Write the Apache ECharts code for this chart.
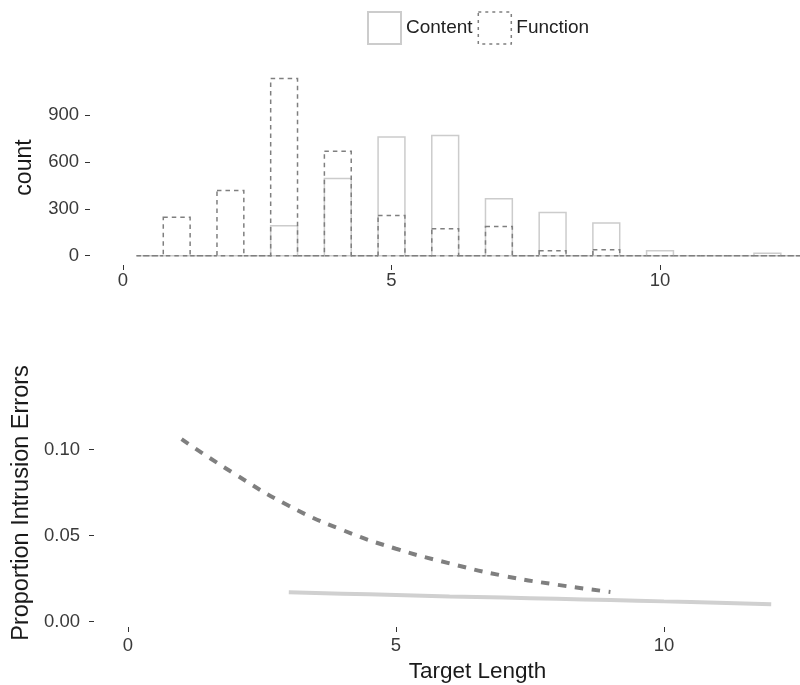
<!DOCTYPE html>
<html>
<head>
<meta charset="utf-8">
<script src="https://cdn.jsdelivr.net/npm/echarts@6/dist/echarts.min.js"></script>
<style>html,body{margin:0;padding:0;background:#fff;}#chart{width:800px;height:685px;}</style>
</head>
<body>
<div id="chart"></div>
<script>
// ---- data ----
const seriesNames = ['Content', 'Function'];
const lengths = [1, 2, 3, 4, 5, 6, 7, 8, 9, 10, 11, 12];
const contentCounts = [0, 0, 192, 494, 761, 770, 364, 276, 210, 32, 0, 15];
const functionCounts = [246, 417, 1135, 669, 257, 173, 186, 32, 37, 0, 0, 0];
const contentLengths = [3, 4, 5, 6, 7, 8, 9, 10, 11, 12];
const contentProp = [0.0170, 0.0162, 0.0154, 0.0146, 0.0139, 0.0132, 0.0125, 0.0117, 0.0109, 0.0101];
const functionLengths = [1, 2, 3, 4, 5, 6, 7, 8, 9];
const functionProp = [0.1060, 0.0856, 0.0673, 0.0532, 0.0423, 0.0338, 0.0266, 0.0214, 0.0172];
const xTicks = [0, 5, 10];
const countTicks = [0, 300, 600, 900];
const propTicks = [0, 0.05, 0.10];

// ---- build ----
const binWidth = 0.5;
function toBins(counts) {
  const out = [[lengths[0] - binWidth, 0]];
  lengths.forEach((L, i) => { out.push([L, counts[i]]); out.push([L + binWidth, 0]); });
  return out;
}
const pairs = (xs, ys) => xs.map((x, i) => [x, ys[i]]);

const LIGHT = '#cccccc', DARK = '#7f7f7f';
const FONT = 'Liberation Sans, Arial, Helvetica, sans-serif';

function histRender(stroke, dash) {
  return function (params, api) {
    const x = api.value(0), y = api.value(1);
    const p0 = api.coord([x - binWidth / 2, y]);
    const p1 = api.coord([x + binWidth / 2, 0]);
    return {
      type: 'rect',
      shape: { x: p0[0], y: p0[1], width: p1[0] - p0[0], height: p1[1] - p0[1] },
      style: { fill: 'none', stroke: stroke, lineWidth: 1.5, lineDash: dash }
    };
  };
}

const tickStyle = { show: true, length: 5, lineStyle: { color: '#333', width: 1 } };
const labelBase = { color: '#3a3a3a', fontSize: 18.5, fontFamily: FONT };
const noLine = { show: false, onZero: false };

const option = {
  animation: false,
  legend: {
    left: 367, top: 11, padding: 0, itemGap: 5, itemWidth: 33, itemHeight: 32,
    textStyle: { fontSize: 19, color: '#222', fontFamily: FONT },
    data: [
      { name: 'Content', icon: 'rect', itemStyle: { color: 'rgba(255,255,255,0)', borderColor: LIGHT, borderWidth: 2 } },
      { name: 'Function', icon: 'rect', itemStyle: { color: 'rgba(255,255,255,0)', borderColor: DARK, borderWidth: 1.5, borderType: [3, 4] } }
    ]
  },
  grid: [
    { left: 90, top: 70, right: 0, height: 195 },
    { left: 94, top: 379, right: 0, height: 248 }
  ],
  xAxis: [
    {
      gridIndex: 0, type: 'value', min: -0.6145, max: 12.607,
      axisLine: noLine, splitLine: { show: false },
      axisTick: Object.assign({ customValues: xTicks }, tickStyle),
      axisLabel: Object.assign({ customValues: xTicks, margin: 6 }, labelBase)
    },
    {
      gridIndex: 1, type: 'value', min: -0.634, max: 12.537,
      axisLine: noLine, splitLine: { show: false },
      axisTick: Object.assign({ customValues: xTicks }, tickStyle),
      axisLabel: Object.assign({ customValues: xTicks, margin: 9 }, labelBase),
      name: 'Target Length', nameLocation: 'middle', nameGap: 33,
      nameTextStyle: { fontSize: 22.5, color: '#1a1a1a', fontFamily: FONT, padding: [0, 0, 0, 61] }
    }
  ],
  yAxis: [
    {
      gridIndex: 0, type: 'value', min: -60, max: 1190,
      axisLine: noLine, splitLine: { show: false },
      axisTick: Object.assign({ customValues: countTicks }, tickStyle),
      axisLabel: Object.assign({ customValues: countTicks, margin: 11 }, labelBase),
      name: 'count', nameLocation: 'middle', nameGap: 54,
      nameTextStyle: { fontSize: 23, color: '#1a1a1a', fontFamily: FONT }
    },
    {
      gridIndex: 1, type: 'value', min: -0.0032, max: 0.141,
      axisLine: noLine, splitLine: { show: false },
      axisTick: Object.assign({ customValues: propTicks }, tickStyle),
      axisLabel: Object.assign({ customValues: propTicks, margin: 14,
        formatter: v => v.toFixed(2) }, labelBase),
      name: 'Proportion Intrusion Errors', nameLocation: 'middle', nameGap: 58,
      nameTextStyle: { fontSize: 23.5, color: '#1a1a1a', fontFamily: FONT }
    }
  ],
  series: [
    {
      name: 'Content', type: 'custom', xAxisIndex: 0, yAxisIndex: 0,
      itemStyle: { color: LIGHT },
      renderItem: histRender(LIGHT, null), data: toBins(contentCounts)
    },
    {
      name: 'Function', type: 'custom', xAxisIndex: 0, yAxisIndex: 0,
      itemStyle: { color: DARK },
      renderItem: histRender(DARK, [4.5, 4]), data: toBins(functionCounts)
    },
    {
      name: 'Content', type: 'line', xAxisIndex: 1, yAxisIndex: 1, smooth: true,
      showSymbol: false, symbol: 'none', color: LIGHT,
      lineStyle: { color: '#d0d0d0', width: 4 },
      data: pairs(contentLengths, contentProp)
    },
    {
      name: 'Function', type: 'line', xAxisIndex: 1, yAxisIndex: 1, smooth: true,
      showSymbol: false, symbol: 'none', color: DARK,
      lineStyle: { color: DARK, width: 4, type: [8.5, 8.5] },
      data: pairs(functionLengths, functionProp)
    }
  ]
};

const chart = echarts.init(document.getElementById('chart'), null, { renderer: 'canvas' });
chart.setOption(option);
</script>
</body>
</html>
